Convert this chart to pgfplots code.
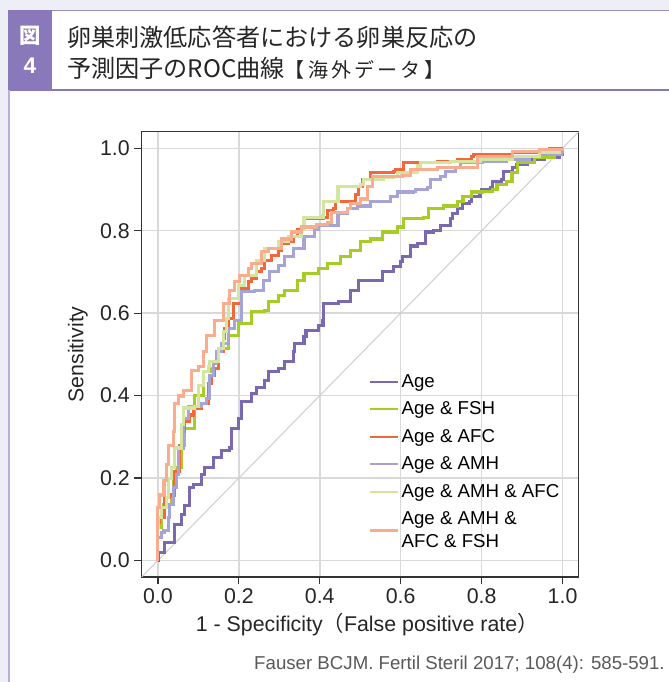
\documentclass[border=0pt]{standalone}
\usepackage{pgfplots}
\pgfplotsset{compat=1.18}
\usepackage{fontspec}
\setmainfont{Liberation Sans}
\newfontfamily\jp{Noto Sans CJK JP}
\newfontfamily\jpsp[LetterSpace=16]{Noto Sans CJK JP}
\definecolor{cAge}{RGB}{122,104,176}
\definecolor{cFSH}{RGB}{168,204,38}
\definecolor{cAFC}{RGB}{242,104,56}
\definecolor{cAMH}{RGB}{166,163,214}
\definecolor{cAMHAFC}{RGB}{212,229,160}
\definecolor{cAll}{RGB}{249,172,142}
\definecolor{figc}{RGB}{138,121,186}
\definecolor{framec}{RGB}{184,174,218}
\definecolor{bgl}{RGB}{238,238,247}
\begin{document}
\begin{tikzpicture}
\useasboundingbox (0,0) rectangle (501pt,511.5pt);
\begin{scope}[shift={(0pt,511.5pt)},x=0.75pt,y=-0.75pt]
\fill[bgl] (0,0) rectangle (700,700);
\fill[white] (8,10) rectangle (700,700);
\fill[figc] (8,10) rectangle (52,90);
\draw[figc!85, line width=0.9pt] (52,10.5) -- (700,10.5);
\draw[figc, line width=1pt] (8,90) -- (700,90);
\draw[framec, line width=1.3pt] (8.8,90) -- (8.8,700);
\node[white, font=\jp\bfseries\fontsize{16}{16}\selectfont] at (30,36) {図};
\node[white, font=\bfseries\fontsize{17}{17}\selectfont] at (30,66) {4};
\node[anchor=west, inner sep=0pt, text=black!85, font=\jp\fontsize{18.1}{18.1}\selectfont] at (67,37) {卵巣刺激低応答者における卵巣反応の};
\node[anchor=west, inner sep=0pt, text=black!85, font=\jp\fontsize{18.1}{18.1}\selectfont] at (67,68) {予測因子のROC曲線{\jpsp\fontsize{15}{15}\selectfont 【海外データ】}};
\node[anchor=east, inner sep=0pt, text=black!65, font=\fontsize{14}{14}\selectfont] at (665,665) {Fauser BCJM. Fertil Steril 2017; 108(4): 585-591.};
\end{scope}
\begin{axis}[
  at={(106.3pt,78.75pt)}, anchor=south west,
  scale only axis, width=327.75pt, height=333.9pt,
  xmin=-0.04, xmax=1.04, ymin=-0.04, ymax=1.04,
  xtick={0,0.2,0.4,0.6,0.8,1.0}, ytick={0,0.2,0.4,0.6,0.8,1.0},
  /pgf/number format/assume math mode=true,
  xticklabel style={/pgf/number format/.cd, fixed, fixed zerofill, precision=1},
  yticklabel style={/pgf/number format/.cd, fixed, fixed zerofill, precision=1},
  tick label style={font=\fontsize{16}{16}\selectfont, text=black!85},
  tick align=outside, tick pos=left, major tick length=5.5pt,
  grid=major, grid style={black!15, line width=1.1pt},
  axis line style={black!80, line width=0.9pt},
  tick style={black!80, line width=0.9pt},
  xlabel={1 - Specificity{\jp （}False positive rate{\jp ）}},
  ylabel={Sensitivity},
  label style={font=\fontsize{16}{16}\selectfont, text=black!85},
  xlabel style={at={(axis description cs:0.516,-0.108)}, anchor=center},
  ylabel style={at={(axis description cs:-0.146,0.5)}, anchor=center, rotate=0},
  legend style={at={(rel axis cs:0.51,0.468)}, anchor=north west, draw=none, fill=none,
    font=\fontsize{14}{17}\selectfont, row sep=5.4pt, cells={anchor=west, align=left}},
  legend cell align=left,
  legend image code/.code={\draw[#1, line width=1.6pt] (0pt,0pt) -- (21pt,0pt);},
]
\addplot[black!18, line width=0.8pt, forget plot] coordinates {(-0.04,-0.04) (1.04,1.04)};
% Age
\addplot[cAge, const plot, line width=2.3pt] coordinates {
(0,0) (0.002,0.019) (0.017,0.043) (0.042,0.056) (0.042,0.087) (0.059,0.111) (0.066,0.133)
(0.079,0.176) (0.088,0.184) (0.108,0.208) (0.115,0.225) (0.138,0.249) (0.157,0.268) (0.177,0.273)
(0.182,0.321) (0.199,0.345) (0.206,0.385) (0.231,0.405) (0.243,0.420) (0.263,0.437) (0.273,0.459)
(0.297,0.466) (0.312,0.483) (0.334,0.507) (0.337,0.527) (0.361,0.544) (0.366,0.558) (0.396,0.570)
(0.408,0.582) (0.410,0.623) (0.447,0.628) (0.477,0.635) (0.477,0.655) (0.496,0.659) (0.496,0.679)
(0.555,0.684) (0.555,0.700) (0.570,0.700) (0.582,0.713) (0.600,0.725) (0.604,0.737) (0.624,0.739)
(0.624,0.763) (0.641,0.768) (0.661,0.797) (0.681,0.800) (0.698,0.812) (0.722,0.829) (0.727,0.841)
(0.740,0.853) (0.752,0.865) (0.771,0.870) (0.776,0.884) (0.796,0.894) (0.801,0.901) (0.821,0.906)
(0.826,0.920) (0.850,0.925) (0.853,0.944) (0.877,0.954) (0.887,0.961) (0.914,0.966) (0.914,0.973)
(0.956,0.978) (0.993,0.986) (1,1)};
\addlegendentry{Age}
% Age & FSH
\addplot[cFSH, const plot, line width=2.3pt] coordinates {
(0,0) (0,0.080) (0.010,0.104) (0.015,0.135) (0.034,0.159) (0.039,0.200) (0.047,0.225) (0.059,0.280)
(0.066,0.321) (0.091,0.401) (0.113,0.459) (0.133,0.466) (0.150,0.514) (0.174,0.546) (0.199,0.575)
(0.231,0.587) (0.231,0.604) (0.263,0.606) (0.273,0.628) (0.297,0.643) (0.312,0.655) (0.346,0.679)
(0.361,0.696) (0.396,0.708) (0.420,0.720) (0.452,0.737) (0.477,0.751) (0.501,0.773) (0.526,0.780)
(0.555,0.797) (0.592,0.809) (0.607,0.829) (0.631,0.829) (0.656,0.833) (0.668,0.853) (0.705,0.860)
(0.740,0.870) (0.754,0.884) (0.776,0.894) (0.801,0.896) (0.828,0.901) (0.838,0.913) (0.862,0.920)
(0.875,0.942) (0.889,0.966) (0.931,0.978) (0.980,0.990) (1,1)};
\addlegendentry{Age \& FSH}
% Age & AFC
\addplot[cAFC, const plot, line width=2.3pt] coordinates {
(0,0) (0,0.092) (0.005,0.104) (0.015,0.121) (0.017,0.152) (0.029,0.159) (0.042,0.217) (0.054,0.280)
(0.059,0.314) (0.066,0.338) (0.079,0.353) (0.088,0.370) (0.108,0.382) (0.125,0.430) (0.133,0.449)
(0.140,0.466) (0.150,0.507) (0.162,0.539) (0.165,0.563) (0.174,0.587) (0.187,0.623) (0.206,0.659)
(0.224,0.676) (0.231,0.684) (0.243,0.700) (0.256,0.708) (0.263,0.727) (0.280,0.739) (0.297,0.751)
(0.305,0.768) (0.322,0.773) (0.334,0.787) (0.346,0.804) (0.359,0.812) (0.361,0.829) (0.408,0.829)
(0.410,0.833) (0.420,0.848) (0.435,0.853) (0.440,0.870) (0.477,0.872) (0.489,0.889) (0.496,0.908)
(0.506,0.925) (0.526,0.942) (0.582,0.944) (0.587,0.949) (0.604,0.949) (0.607,0.966) (0.690,0.969)
(0.740,0.973) (0.776,0.981) (0.779,0.986) (0.877,0.990) (0.943,0.998) (0.968,1.0) (1,1)};
\addlegendentry{Age \& AFC}
% Age & AMH
\addplot[cAMH, const plot, line width=2.3pt] coordinates {
(0,0) (0,0.056) (0.010,0.068) (0.015,0.072) (0.027,0.104) (0.029,0.135) (0.039,0.176) (0.047,0.208)
(0.052,0.249) (0.052,0.273) (0.064,0.345) (0.076,0.374) (0.108,0.382) (0.120,0.394) (0.128,0.449)
(0.138,0.478) (0.145,0.507) (0.157,0.527) (0.174,0.563) (0.189,0.582) (0.206,0.628) (0.206,0.652)
(0.238,0.655) (0.260,0.679) (0.275,0.700) (0.297,0.715) (0.312,0.737) (0.334,0.756) (0.361,0.785)
(0.386,0.804) (0.396,0.812) (0.428,0.812) (0.445,0.841) (0.469,0.853) (0.494,0.860) (0.526,0.870)
(0.555,0.872) (0.575,0.882) (0.592,0.894) (0.631,0.896) (0.636,0.901) (0.666,0.906) (0.673,0.925)
(0.698,0.932) (0.710,0.944) (0.735,0.954) (0.747,0.966) (0.803,0.969) (0.862,0.973) (0.919,0.981)
(0.943,0.986) (0.998,0.990) (1,1)};
\addlegendentry{Age \& AMH}
% Age & AMH & AFC
\addplot[cAMHAFC, const plot, line width=2.3pt] coordinates {
(0,0) (0,0.080) (0.002,0.104) (0.010,0.128) (0.022,0.152) (0.027,0.200) (0.034,0.225) (0.042,0.273)
(0.059,0.329) (0.064,0.370) (0.091,0.374) (0.101,0.425) (0.113,0.459) (0.125,0.471) (0.128,0.483)
(0.150,0.514) (0.162,0.556) (0.170,0.587) (0.174,0.635) (0.199,0.667) (0.214,0.691) (0.243,0.727)
(0.263,0.756) (0.297,0.773) (0.322,0.787) (0.354,0.804) (0.361,0.833) (0.408,0.836) (0.410,0.870)
(0.445,0.872) (0.445,0.908) (0.501,0.913) (0.509,0.925) (0.558,0.930) (0.582,0.932) (0.592,0.942)
(0.641,0.957) (0.649,0.966) (0.722,0.969) (0.796,0.973) (0.877,0.981) (0.943,0.990) (0.993,0.998) (1,1)};
\addlegendentry{Age \& AMH \& AFC}
% Age & AMH & AFC & FSH
\addplot[cAll, const plot, line width=2.3pt] coordinates {
(0,0) (0,0.128) (0.005,0.159) (0.015,0.193) (0.022,0.232) (0.027,0.280) (0.039,0.314) (0.042,0.382)
(0.052,0.399) (0.064,0.413) (0.084,0.461) (0.101,0.471) (0.113,0.507) (0.120,0.546) (0.140,0.582)
(0.162,0.623) (0.177,0.655) (0.189,0.676) (0.201,0.691) (0.224,0.708) (0.231,0.720) (0.256,0.749)
(0.273,0.756) (0.305,0.780) (0.329,0.797) (0.354,0.809) (0.391,0.816) (0.420,0.821) (0.428,0.845)
(0.469,0.853) (0.477,0.865) (0.501,0.877) (0.518,0.908) (0.531,0.913) (0.531,0.932) (0.604,0.935)
(0.624,0.949) (0.690,0.954) (0.789,0.981) (0.877,0.993) (0.943,0.998) (1,1)};
\addlegendentry{Age \& AMH \&\\AFC \& FSH}
\end{axis}
\end{tikzpicture}
\end{document}
